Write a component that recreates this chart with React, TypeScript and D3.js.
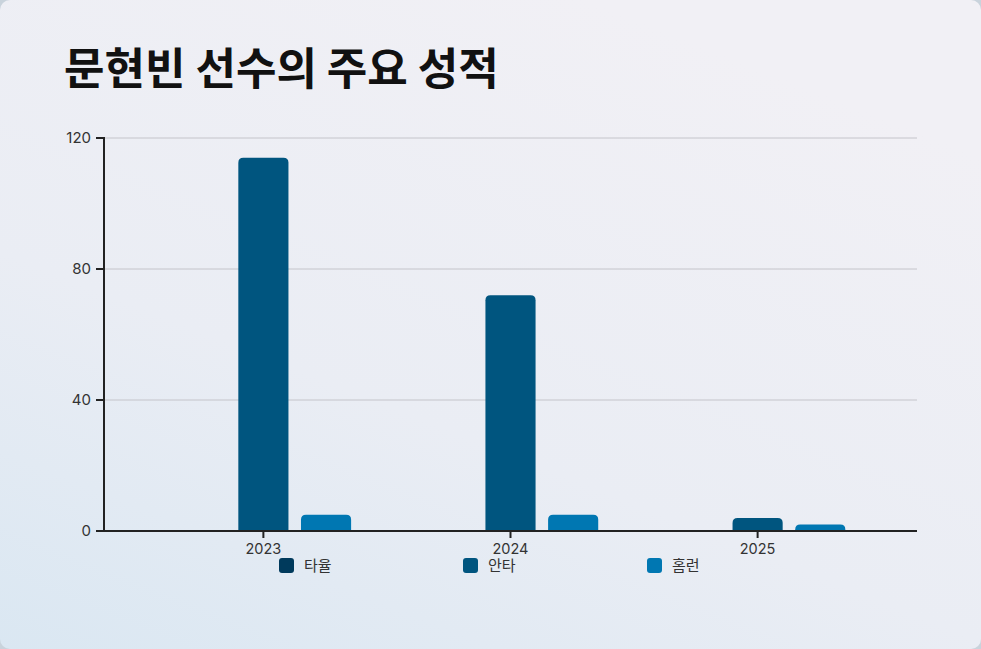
import * as React from 'react';
import { scaleBand, scaleLinear } from 'd3';

const years = ['2023', '2024', '2025'];
const seriesKeys = ['타율', '안타', '홈런'];
const battingAvg = [0.255, 0.263, 0.267];
const hits = [114, 72, 4];
const homeRuns = [5, 5, 2];
const yTicks = [0, 40, 80, 120];
const colors = ['#003a5c', '#00557f', '#0077b2'];

const W = 981;
const H = 649;
const margin = { left: 104, right: 64, top: 138, bottom: 118 };

function topRounded(x: number, y: number, w: number, h: number, r: number) {
  const rr = Math.min(r, h, w / 2);
  return `M${x},${y + h}V${y + rr}Q${x},${y} ${x + rr},${y}H${x + w - rr}Q${x + w},${y} ${x + w},${y + rr}V${y + h}Z`;
}

export default function App() {
  const series = [battingAvg, hits, homeRuns];
  const innerW = W - margin.left - margin.right;
  const y0 = H - margin.bottom;
  const x = scaleBand<string>().domain(years).range([margin.left, margin.left + innerW]).padding(0.29);
  const xi = scaleBand<string>().domain(seriesKeys).range([0, x.bandwidth()]).paddingInner(0.2);
  const y = scaleLinear().domain([0, 120]).range([y0, margin.top]);
  const font = "Inter, 'Noto Sans CJK KR', 'Noto Sans', sans-serif";

  return (
    <svg width={W} height={H} style={{ position: 'fixed', left: 0, top: 0 }} fontFamily={font}>
      <defs>
        <linearGradient id="bg" x1="0" y1="1" x2="0.6" y2="0">
          <stop offset="0" stopColor="#dae7f2" />
          <stop offset="0.45" stopColor="#eaedf4" />
          <stop offset="1" stopColor="#f1f0f5" />
        </linearGradient>
      </defs>
      <rect width={W} height={H} fill="#c9d3dc" />
      <rect width={W} height={H} rx={10} fill="url(#bg)" />
      <text x={64} y={85} fontSize={44} fontWeight={700} fill="#111" fontFamily="'Noto Sans CJK KR', sans-serif">
        문현빈 선수의 주요 성적
      </text>
      {yTicks.map(t => (
        <g key={t}>
          {t > 0 && <line x1={margin.left} x2={margin.left + innerW} y1={y(t)} y2={y(t)} stroke="#c4c4ca" strokeWidth={1} />}
          <line x1={margin.left - 8} x2={margin.left} y1={y(t)} y2={y(t)} stroke="#222" strokeWidth={2} />
          <text x={margin.left - 13} y={y(t)} dy="0.35em" textAnchor="end" fontSize={15} fill="#333">{t}</text>
        </g>
      ))}
      {years.map((yr, i) => (
        <g key={yr} transform={`translate(${x(yr)},0)`}>
          {seriesKeys.map((k, j) => {
            const v = series[j][i];
            const top = y(v);
            const h = y0 - top;
            if (h < 0.5) return null;
            return <path key={k} d={topRounded(xi(k)!, top, xi.bandwidth(), h, 5)} fill={colors[j]} />;
          })}
        </g>
      ))}
      <line x1={margin.left} x2={margin.left} y1={margin.top - 1} y2={y0} stroke="#222" strokeWidth={2} />
      <line x1={margin.left} x2={margin.left + innerW} y1={y0} y2={y0} stroke="#222" strokeWidth={2} />
      {years.map(yr => {
        const cx = x(yr)! + x.bandwidth() / 2;
        return (
          <g key={yr}>
            <line x1={cx} x2={cx} y1={y0} y2={y0 + 7} stroke="#222" strokeWidth={2} />
            <text x={cx} y={y0 + 23} textAnchor="middle" fontSize={14.5} fill="#333">{yr}</text>
          </g>
        );
      })}
      {seriesKeys.map((k, j) => (
        <g key={k} transform={`translate(${279 + j * 184},558)`}>
          <rect width={15} height={15} rx={3} fill={colors[j]} />
          <text x={25} y={8} dy="0.35em" fontSize={15} fill="#333">{k}</text>
        </g>
      ))}
    </svg>
  );
}
